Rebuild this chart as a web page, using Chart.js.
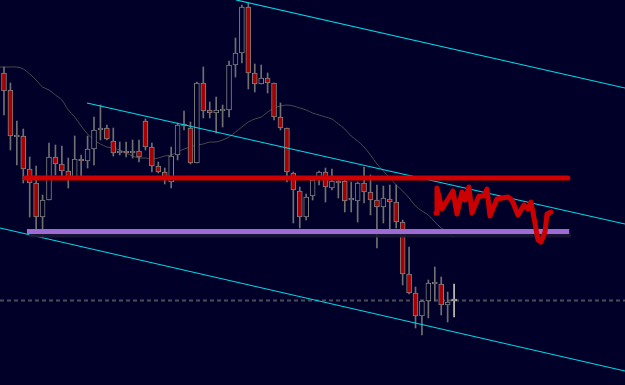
<!DOCTYPE html>
<html>
<head>
<meta charset="utf-8">
<script src="https://cdn.jsdelivr.net/npm/chart.js@4.4.1/dist/chart.umd.min.js"></script>
<style>
html,body{margin:0;padding:0;background:#000028;overflow:hidden;}
canvas{display:block;background:#000028;}
</style>
</head>
<body>
<canvas id="c" width="625" height="385"></canvas>
<script>
// Candle data (price units), one entry per bar
const openP  = [312,295,248,249,216,202,168,185,228,221,214,207,226,224,236,255,257,244,232,234,232,234,264,238,219,213,203,230,259,257,222,302,275,272,274,275,320,332,378,312,301,307,302,268,257,212,194,168,189,208,213,197,202,204,185,184,202,193,185,178,186,183,163,111,92,69,84,101,101,80,84];
const highP  = [318,302,264,256,228,219,190,242,240,239,227,249,230,249,268,280,260,257,243,243,245,245,266,242,223,217,238,262,274,263,303,318,283,288,280,324,347,380,382,321,320,312,302,282,257,213,198,191,208,214,217,216,207,205,203,203,218,210,200,199,200,200,165,138,98,85,105,118,108,93,101];
const lowP   = [270,235,220,202,168,155,147,185,210,208,197,207,208,217,220,245,245,229,230,228,227,223,235,213,212,201,197,225,255,221,222,267,267,252,258,268,308,322,296,293,301,292,265,255,203,162,157,165,185,200,183,195,187,173,173,163,182,170,137,162,155,157,100,91,57,50,67,84,70,63,68];
const closeP = [294,249,249,216,202,168,185,228,221,214,207,226,224,236,255,257,246,232,233,232,234,228,238,219,213,208,229,260,260,222,302,274,272,275,275,320,332,378,312,301,307,302,268,257,213,195,168,188,205,213,198,204,204,184,186,202,193,185,178,187,183,163,111,92,69,84,102,102,80,83,85];
// Moving average line
const maP = [318,318,318,316,311,305,298,295,290,285,275,268,259,251,245,241,238,237,235,232,229,227,227,226,227,229,230,233,236,238,240,241,243,243,245,248,253,258,263,266,268,273,277,279,280,279,277,275,272,270,268,266,261,256,249,244,238,230,221,214,207,200,194,187,179,174,170,163,157,153,148];
// Trend channel lines [x-index, price]
const trendTop = [[36.08,385],[96.58,297]];
const trendMid = [[12.91,282],[96.58,161]];
const trendLow = [[-0.62,157],[96.58,14]];
// Horizontal levels
const redLevel = {from:3.27, to:87.7, price:207};
const purpleLevel = {from:3.58, to:87.9, price:153.5};
const dottedLevel = 84.5;
// Hand-drawn squiggle
const sqX = [67.19,67.34,68.12,69.83,70.45,71.23,71.70,72.32,72.78,73.87,74.65,75.12,75.58,76.67,78.38,79.00,79.94,80.87,81.49,81.96,82.58,83.05,83.51,84.14,84.45,85.07];
const sqY = [172,197,176,194,171,193,185,198,172,189,189,196,169,186,188,185,170,180,176,183,162,145,143,153,171,173];

const BG = '#000028';
const n = openP.length;
const bodies = [], wicks = [], bodyFill = [], wickCol = [], bodyBorder = [];
for (let i = 0; i < n; i++) {
  const o = openP[i], c = closeP[i];
  bodies.push({x:i, y:[Math.min(o,c), Math.max(o,c)]});
  wicks.push({x:i, y:[lowP[i], highP[i]]});
  const bear = c < o;
  bodyFill.push(bear ? '#a80000' : BG);
  const last = i === n - 1;
  wickCol.push(last ? '#c4c4b8' : '#707070');
  bodyBorder.push(last ? '#c4c4b8' : '#808080');
}
const maData = [{x:-0.62, y:maP[0]}].concat(maP.map((v,i)=>({x:i,y:v})));
const pts = a => a.map(p=>({x:p[0], y:p[1]}));
const sq = sqX.map((x,i)=>({x:x, y:sqY[i]}));

const lineBase = {type:'line', pointRadius:0, fill:false, tension:0};

new Chart(document.getElementById('c'), {
  type:'bar',
  data:{datasets:[
    Object.assign({}, lineBase, {data:sq, borderColor:'#cc0000', borderWidth:5, borderCapStyle:'round', borderJoinStyle:'round', order:0}),
    Object.assign({}, lineBase, {data:[{x:redLevel.from,y:redLevel.price},{x:redLevel.to,y:redLevel.price}], borderColor:'#d00000', borderWidth:5, borderCapStyle:'round', order:1}),
    Object.assign({}, lineBase, {data:[{x:purpleLevel.from,y:purpleLevel.price},{x:purpleLevel.to,y:purpleLevel.price}], borderColor:'#9c6cd4', borderWidth:5, order:2}),
    Object.assign({}, lineBase, {data:[{x:purpleLevel.from+0.3,y:purpleLevel.price-4},{x:purpleLevel.to+0.3,y:purpleLevel.price-4}], borderColor:'rgba(25,22,50,0.9)', borderWidth:4, order:3}),
    Object.assign({}, lineBase, {data:pts(trendTop), borderColor:'#00d8e4', borderWidth:1.2, order:4}),
    Object.assign({}, lineBase, {data:pts(trendMid), borderColor:'#00d8e4', borderWidth:1.2, order:4}),
    Object.assign({}, lineBase, {data:pts(trendLow), borderColor:'#00d8e4', borderWidth:1.2, order:4}),
    {type:'bar', data:bodies, backgroundColor:bodyFill, borderColor:bodyBorder, borderWidth:1, borderSkipped:false, barThickness:5, grouped:false, minBarLength:2, order:5},
    {type:'bar', data:wicks, backgroundColor:wickCol, borderWidth:0, barThickness:1, grouped:false, order:6},
    Object.assign({}, lineBase, {data:maData, borderColor:'#4a4a4a', borderWidth:1, tension:0.3, order:7}),
    Object.assign({}, lineBase, {data:[{x:-0.62,y:dottedLevel},{x:96.58,y:dottedLevel}], borderColor:'#4c4c58', borderWidth:2, borderDash:[4,3], order:8})
  ]},
  options:{
    responsive:false, animation:false, devicePixelRatio:1,
    layout:{padding:0},
    plugins:{legend:{display:false}, tooltip:{enabled:false}},
    scales:{
      x:{type:'linear', min:-0.62, max:96.58, offset:false, display:false},
      y:{type:'linear', min:0, max:385, display:false}
    }
  }
});
</script>
</body>
</html>
